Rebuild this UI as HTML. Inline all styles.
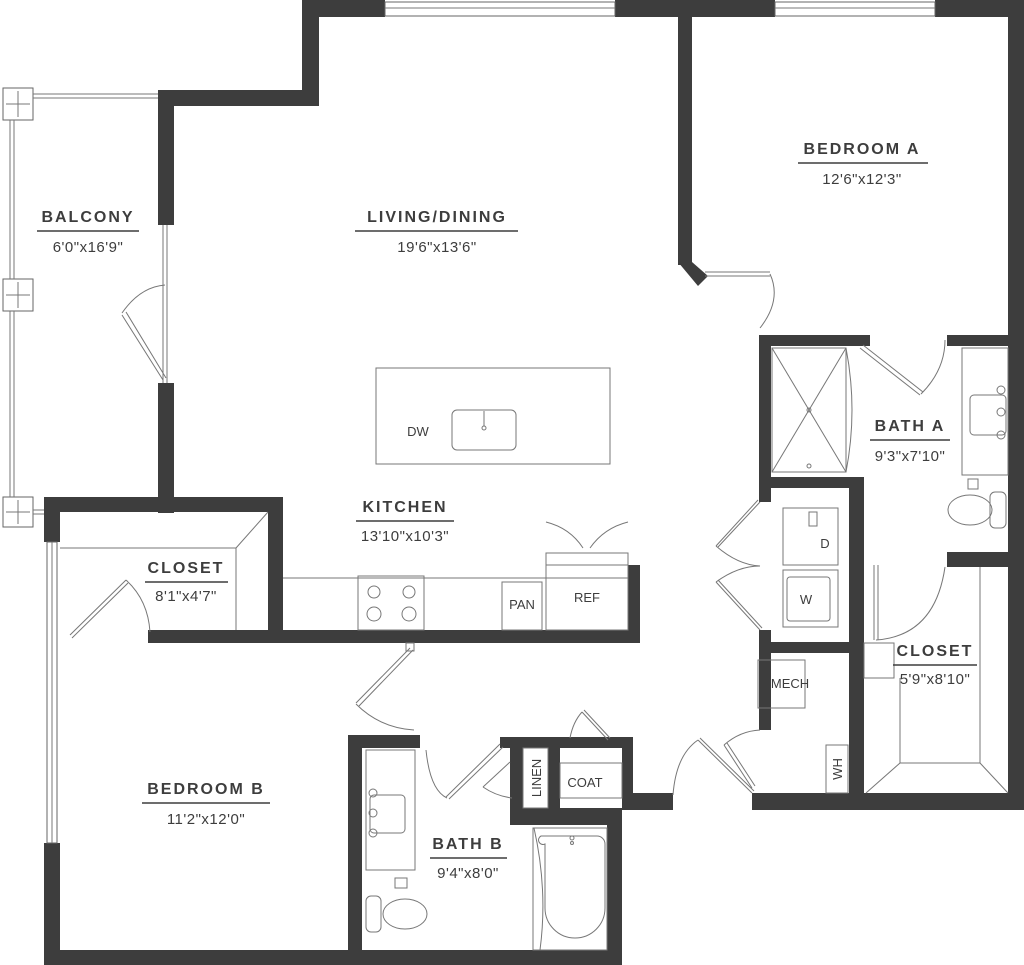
<!DOCTYPE html>
<html><head><meta charset="utf-8"><style>
html,body{margin:0;padding:0;background:#fff;}
svg{display:block;}
.w{fill:#3d3d3d;}
.f{fill:none;stroke:#777;stroke-width:1;}
.d{fill:#fff;stroke:#666;stroke-width:1;}
.t{font-family:"Liberation Sans",sans-serif;font-weight:bold;font-size:16px;letter-spacing:2px;fill:#3d3d3d;text-anchor:middle;}
.s{font-family:"Liberation Sans",sans-serif;font-size:15px;letter-spacing:0.5px;fill:#3d3d3d;text-anchor:middle;}
.u{stroke:#3d3d3d;stroke-width:1.5;}
.sm{font-family:"Liberation Sans",sans-serif;font-size:13px;fill:#3d3d3d;text-anchor:middle;}
</style></head><body>
<svg width="1024" height="965" viewBox="0 0 1024 965" xmlns="http://www.w3.org/2000/svg">
<g class="d">
<rect x="3" y="88" width="30" height="32"/><rect x="3" y="279" width="30" height="32"/><rect x="3" y="497" width="30" height="30"/>
</g>
<g class="f">
<line x1="10" y1="120" x2="10" y2="279"/><line x1="14" y1="120" x2="14" y2="279"/>
<line x1="10" y1="311" x2="10" y2="497"/><line x1="14" y1="311" x2="14" y2="497"/>
<line x1="33" y1="94" x2="158" y2="94"/><line x1="33" y1="98" x2="158" y2="98"/>
<line x1="33" y1="510" x2="44" y2="510"/><line x1="33" y1="514" x2="44" y2="514"/>
<line x1="6" y1="104" x2="30" y2="104"/><line x1="18" y1="91" x2="18" y2="117"/>
<line x1="6" y1="295" x2="30" y2="295"/><line x1="18" y1="282" x2="18" y2="308"/>
<line x1="6" y1="512" x2="30" y2="512"/><line x1="18" y1="500" x2="18" y2="524"/>
</g>
<g class="w">
<rect x="302" y="0" width="83" height="17"/>
<rect x="302" y="0" width="17" height="106"/>
<rect x="158" y="90" width="161" height="16"/>
<rect x="158" y="90" width="16" height="135"/>
<rect x="158" y="383" width="16" height="130"/>
<rect x="44" y="497" width="239" height="15"/>
<rect x="268" y="497" width="15" height="146"/>
<rect x="148" y="630" width="492" height="13"/>
<rect x="628" y="565" width="12" height="78"/>
<rect x="44" y="497" width="16" height="45"/>
<rect x="44" y="843" width="16" height="122"/>
<rect x="44" y="950" width="578" height="15"/>
<rect x="348" y="735" width="14" height="230"/>
<rect x="348" y="735" width="72" height="13"/>
<rect x="500" y="737" width="133" height="11"/>
<rect x="510" y="737" width="13" height="88"/>
<rect x="510" y="808" width="112" height="17"/>
<rect x="548" y="748" width="12" height="60"/>
<rect x="622" y="737" width="11" height="73"/>
<rect x="622" y="793" width="51" height="17"/>
<rect x="607" y="808" width="15" height="157"/>
<rect x="752" y="793" width="272" height="17"/>
<rect x="1008" y="0" width="16" height="810"/>
<rect x="615" y="0" width="160" height="17"/>
<rect x="935" y="0" width="89" height="17"/>
<rect x="678" y="0" width="14" height="265"/>
<polygon points="678,262 692,262 708,276 698,286"/>
<rect x="760" y="335" width="110" height="11"/>
<rect x="947" y="335" width="77" height="11"/>
<rect x="759" y="335" width="12" height="167"/>
<rect x="759" y="477" width="105" height="11"/>
<rect x="849" y="477" width="15" height="325"/>
<rect x="759" y="630" width="12" height="100"/>
<rect x="759" y="642" width="90" height="11"/>
<rect x="947" y="552" width="77" height="15"/>
</g>
<g class="d">
<rect x="385" y="2" width="230" height="14"/><rect x="775" y="2" width="160" height="14"/>
<rect x="47" y="542" width="10" height="301"/>
</g>
<g class="f">
<line x1="385" y1="8" x2="615" y2="8"/><line x1="775" y1="8" x2="935" y2="8"/>
<line x1="52" y1="542" x2="52" y2="843"/>
</g>
<g class="f">
<line x1="163" y1="225" x2="163" y2="383"/><line x1="167" y1="225" x2="167" y2="383"/>
<path d="M122,315 L163,380 M126,312 L166,378"/><path d="M122,313 Q140,287 165,285"/>
</g>
<rect x="376" y="368" width="234" height="96" class="f"/>
<rect x="452" y="410" width="64" height="40" rx="5" class="f"/>
<circle cx="484" cy="428" r="2" class="f"/><line x1="484" y1="411" x2="484" y2="426" stroke="#777"/>
<text x="418" y="436" class="sm">DW</text>
<g class="f">
<line x1="283" y1="578" x2="628" y2="578"/>
<rect x="358" y="576" width="66" height="54"/>
<rect x="502" y="582" width="40" height="48"/>
<rect x="546" y="553" width="82" height="77"/>
<rect x="546" y="553" width="82" height="12"/>
<path d="M546,522 Q570,528 583,548 M628,522 Q604,528 590,548"/>
</g>
<g class="f" stroke-width="1.5"><circle cx="374" cy="592" r="6"/><circle cx="409" cy="592" r="6"/><circle cx="374" cy="614" r="7"/><circle cx="409" cy="614" r="7"/></g>
<text x="522" y="609" class="sm">PAN</text><text x="587" y="602" class="sm">REF</text>
<g class="f">
<line x1="60" y1="548" x2="236" y2="548"/><line x1="236" y1="548" x2="268" y2="512"/><line x1="236" y1="548" x2="236" y2="630"/>
<line x1="70" y1="635" x2="126" y2="580"/><line x1="72" y1="638" x2="128" y2="583"/>
<path d="M126,580 Q148,600 150,632"/>
</g>
<g class="f">
<line x1="410" y1="648" x2="356" y2="703"/><line x1="413" y1="650" x2="359" y2="706"/>
<path d="M356,704 Q380,728 414,730"/>
<rect x="406" y="643" width="8" height="8"/>
</g>
<g class="f">
<rect x="366" y="750" width="49" height="120"/>
<rect x="370" y="795" width="35" height="38" rx="4"/>
<circle cx="373" cy="793" r="4"/><circle cx="373" cy="833" r="4"/><circle cx="373" cy="813" r="4"/>
<rect x="395" y="878" width="12" height="10"/>
<rect x="366" y="896" width="15" height="36" rx="5"/>
<ellipse cx="405" cy="914" rx="22" ry="15"/>
<rect x="533" y="828" width="74" height="122"/>
<path d="M541,836 h56 a8,8 0 0 1 8,8 v64 a30,30 0 0 1 -60,0 v-64 a4,4 0 0 1 -4,-8z"/>
<path d="M534,828 Q548,890 540,950"/>
<circle cx="572" cy="838" r="2"/><circle cx="572" cy="843" r="1.5"/>
<path d="M426,750 Q430,790 447,798"/>
<line x1="446" y1="797" x2="500" y2="744"/><line x1="449" y1="799" x2="503" y2="747"/>
<line x1="483" y1="787" x2="510" y2="762"/><path d="M483,787 Q496,796 512,798"/>
<rect x="523" y="748" width="25" height="60"/>
<rect x="560" y="763" width="62" height="35"/>
<line x1="582" y1="712" x2="608" y2="740"/><line x1="584" y1="710" x2="610" y2="738"/>
<path d="M582,712 Q573,722 570,738"/>
<path d="M673,795 Q676,755 698,740"/>
<line x1="698" y1="740" x2="752" y2="793"/><line x1="700" y1="738" x2="754" y2="791"/>
<line x1="724" y1="745" x2="752" y2="788"/><line x1="727" y1="743" x2="755" y2="786"/>
<path d="M724,745 Q740,731 760,730"/>
</g>
<text x="585" y="787" class="sm">COAT</text>
<text x="0" y="0" class="sm" transform="translate(541,778) rotate(-90)">LINEN</text>
<g class="f">
<line x1="705" y1="272" x2="770" y2="272"/><line x1="705" y1="276" x2="770" y2="276"/>
<path d="M770,274 Q782,300 760,328"/>
<line x1="860" y1="348" x2="920" y2="395"/><line x1="863" y1="345" x2="923" y2="392"/><path d="M921,394 Q945,370 945,340"/>
</g>
<g class="f">
<rect x="772" y="348" width="74" height="124"/>
<line x1="772" y1="348" x2="846" y2="472"/><line x1="846" y1="348" x2="772" y2="472"/>
<path d="M846,348 Q858,410 846,472"/>
<circle cx="809" cy="410" r="2"/><circle cx="809" cy="466" r="2"/>
<rect x="962" y="348" width="46" height="127"/>
<rect x="970" y="395" width="36" height="40" rx="4"/>
<circle cx="1001" cy="390" r="4"/><circle cx="1001" cy="435" r="4"/><circle cx="1001" cy="412" r="4"/>
<rect x="968" y="479" width="10" height="10"/>
<ellipse cx="970" cy="510" rx="22" ry="15"/><rect x="990" y="492" width="16" height="36" rx="5"/>
<rect x="783" y="508" width="55" height="57"/><rect x="809" y="512" width="8" height="14"/>
<rect x="783" y="570" width="55" height="57"/><rect x="787" y="577" width="43" height="44" rx="3"/>
<line x1="718" y1="547" x2="760" y2="502"/><line x1="716" y1="546" x2="758" y2="500"/>
<path d="M716,546 Q738,565 760,566"/>
<line x1="716" y1="582" x2="760" y2="630"/><line x1="718" y1="580" x2="762" y2="628"/>
<path d="M716,582 Q738,566 760,566"/>
<rect x="758" y="660" width="47" height="48"/>
<rect x="826" y="745" width="22" height="48"/>
<line x1="874" y1="565" x2="874" y2="640"/><line x1="878" y1="565" x2="878" y2="640"/>
<path d="M876,640 Q935,636 945,567"/>
<rect x="864" y="643" width="30" height="35"/>
<line x1="900" y1="678" x2="900" y2="763"/><line x1="980" y1="567" x2="980" y2="763"/>
<line x1="900" y1="763" x2="980" y2="763"/><line x1="900" y1="763" x2="866" y2="793"/><line x1="980" y1="763" x2="1008" y2="793"/>
</g>
<text x="825" y="548" class="sm">D</text><text x="806" y="604" class="sm">W</text>
<text x="790" y="688" class="sm">MECH</text>
<text x="0" y="0" class="sm" transform="translate(842,769) rotate(-90)">WH</text>
<text x="88" y="222" class="t">BALCONY</text><line x1="37" y1="231" x2="139" y2="231" class="u"/><text x="88" y="252" class="s">6'0"x16'9"</text>
<text x="437" y="222" class="t">LIVING/DINING</text><line x1="355" y1="231" x2="518" y2="231" class="u"/><text x="437" y="252" class="s">19'6"x13'6"</text>
<text x="862" y="154" class="t">BEDROOM A</text><line x1="798" y1="163" x2="928" y2="163" class="u"/><text x="862" y="184" class="s">12'6"x12'3"</text>
<text x="910" y="431" class="t">BATH A</text><line x1="870" y1="440" x2="950" y2="440" class="u"/><text x="910" y="461" class="s">9'3"x7'10"</text>
<text x="405" y="512" class="t">KITCHEN</text><line x1="356" y1="521" x2="454" y2="521" class="u"/><text x="405" y="541" class="s">13'10"x10'3"</text>
<text x="186" y="573" class="t">CLOSET</text><line x1="145" y1="582" x2="228" y2="582" class="u"/><text x="186" y="601" class="s">8'1"x4'7"</text>
<text x="935" y="656" class="t">CLOSET</text><line x1="893" y1="665" x2="977" y2="665" class="u"/><text x="935" y="684" class="s">5'9"x8'10"</text>
<text x="206" y="794" class="t">BEDROOM B</text><line x1="142" y1="803" x2="270" y2="803" class="u"/><text x="206" y="824" class="s">11'2"x12'0"</text>
<text x="468" y="849" class="t">BATH B</text><line x1="430" y1="858" x2="507" y2="858" class="u"/><text x="468" y="878" class="s">9'4"x8'0"</text>
</svg>
</body></html>
